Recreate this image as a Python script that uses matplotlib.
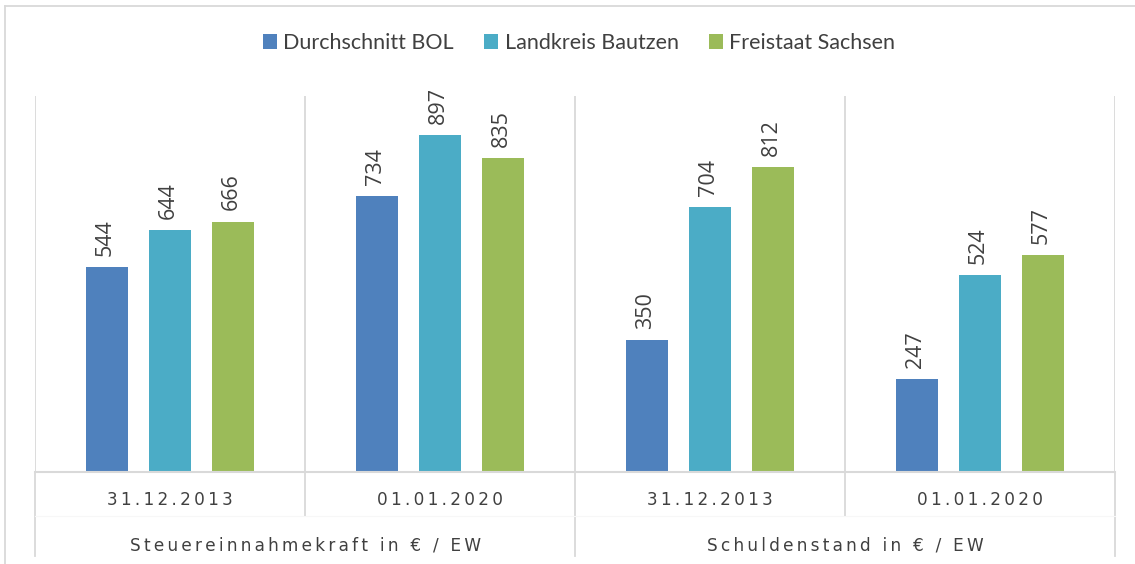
import matplotlib
matplotlib.use("Agg")
import matplotlib.pyplot as plt
from matplotlib.patches import Patch
from matplotlib.lines import Line2D
import numpy as np

plt.rcParams['font.family'] = ['Lato', 'DejaVu Sans']

dates = ["31.12.2013", "01.01.2020", "31.12.2013", "01.01.2020"]
groups = ["Steuereinnahmekraft in € / EW", "Schuldenstand in € / EW"]
series_names = ["Durchschnitt BOL", "Landkreis Bautzen", "Freistaat Sachsen"]
bol = [544, 734, 350, 247]
bautzen = [644, 897, 704, 524]
sachsen = [666, 835, 812, 577]
colors = ["#4F81BD", "#4BACC6", "#9BBB59"]

W, H = 1135, 564
fig = plt.figure(figsize=(W / 100, H / 100), dpi=100)

def fx(px):
    return px / W

def fy(py):
    return 1 - py / H

ax_l, ax_r, ax_t, ax_b = 35, 1115, 96, 472
ax = fig.add_axes([fx(ax_l), fy(ax_b), fx(ax_r) - fx(ax_l), fy(ax_t) - fy(ax_b)])
ax.set_xlim(-0.5, 3.5)
ax.set_ylim(0, 1000)
for s in ax.spines.values():
    s.set_visible(False)
ax.set_xticks([])
ax.set_yticks([])

grid_c = "#D9D9D9"
x = np.arange(len(dates))
bw = 42 / 270
step = 63 / 270
for i, (vals, c) in enumerate(zip([bol, bautzen, sachsen], colors)):
    pos = x + (i - 1) * step
    ax.bar(pos, vals, width=bw, color=c, zorder=3)
    for xp, v in zip(pos, vals):
        ax.annotate(str(v), (xp, v), xytext=(-1, 8), textcoords="offset points",
                    rotation=90, ha="center", va="bottom", fontsize=15.5,
                    color="#404040", family=['Open Sans', 'DejaVu Sans'])

for b in np.arange(-0.5, 4.0, 1.0):
    ax.axvline(b, color=grid_c, lw=1.3, zorder=1)
ax.axhline(0, color=grid_c, lw=1.5, zorder=4, clip_on=False)

# lower category axis lines
for b in np.arange(-0.5, 4.0, 1.0):
    xpix = ax_l + (b + 0.5) * 270
    y_end = 556 if b in (-0.5, 1.5, 3.5) else 516
    fig.add_artist(Line2D([fx(xpix), fx(xpix)], [fy(ax_b), fy(y_end)],
                          color=grid_c, lw=1.3))
fig.add_artist(Line2D([fx(ax_l), fx(ax_r)], [fy(516), fy(516)], color="#F7F7F7", lw=0.8))


def spaced(s, n=1):
    return ("\u200a" * n).join(s)

for i, d in enumerate(dates):
    xpix = ax_l + (i + 0.5) * 270
    fig.text(fx(xpix), fy(500), spaced(d, 2), ha="center", va="center",
             fontsize=12.2, color="#404040", family=['DejaVu Sans'])
for i, g in enumerate(groups):
    xpix = ax_l + (i + 0.5) * 540
    fig.text(fx(xpix), fy(545), spaced(g, 2), ha="center", va="center",
             fontsize=12.2, color="#404040", family=['DejaVu Sans'])

# outer border (top and left)
fig.add_artist(Line2D([fx(5), fx(1135)], [fy(6), fy(6)], color=grid_c, lw=1.3))
fig.add_artist(Line2D([fx(5), fx(5)], [fy(6), fy(564)], color=grid_c, lw=1.3))

handles = [Patch(facecolor=c, edgecolor="none") for c in colors]
fig.legend(handles, series_names, loc="center", bbox_to_anchor=(fx(579), fy(43)),
           ncol=3, frameon=False, fontsize=15.5, handlelength=0.65, handleheight=0.65,
           handletextpad=0.3, columnspacing=1.4, labelcolor="#404040")

fig.savefig("out.png", dpi=100)
